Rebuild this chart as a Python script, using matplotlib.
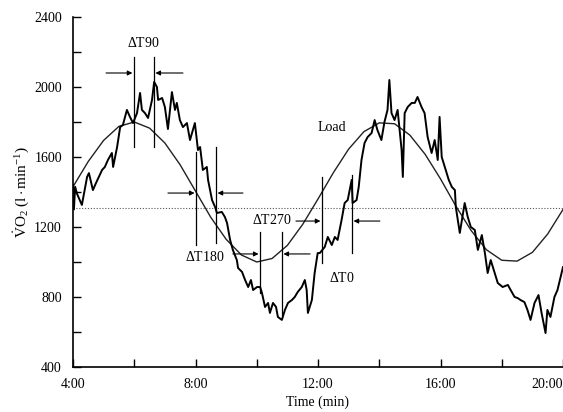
import numpy as np
import matplotlib
matplotlib.use("Agg")
import matplotlib.pyplot as plt

plt.rcParams['font.family'] = ['Liberation Serif', 'DejaVu Serif']
plt.rcParams['mathtext.fontset'] = 'custom'
plt.rcParams['mathtext.rm'] = 'Liberation Serif'
plt.rcParams['mathtext.it'] = 'Liberation Serif:italic'

# ---- data (time in min, VO2 in l/min * 1000) ----
load_t = [4.0, 4.5, 5.0, 5.5, 6.0, 6.5, 7.0, 7.5, 8.0, 8.5, 9.0, 9.5, 10.0,
          10.5, 11.0, 11.5, 12.0, 12.5, 13.0, 13.5, 14.0, 14.5, 15.0, 15.5,
          16.0, 16.5, 17.0, 17.5, 18.0, 18.5, 19.0, 19.5, 20.0]
load_v = [1430, 1575, 1695, 1775, 1800, 1765, 1680, 1555, 1405, 1255, 1130,
          1040, 1000, 1020, 1095, 1215, 1360, 1510, 1645, 1745, 1795, 1790,
          1725, 1615, 1475, 1320, 1180, 1070, 1010, 1005, 1055, 1160, 1300]

vo2_t = [4.00, 4.03, 4.07, 4.13, 4.29, 4.46, 4.52, 4.65, 4.75, 4.95, 5.04,
         5.14, 5.27, 5.31, 5.44, 5.54, 5.63, 5.76, 5.86, 5.96, 6.09, 6.19,
         6.25, 6.35, 6.45, 6.58, 6.65, 6.74, 6.78, 6.91, 7.00, 7.10, 7.23,
         7.33, 7.39, 7.49, 7.59, 7.72, 7.82, 7.98, 8.08, 8.15, 8.24, 8.37,
         8.41, 8.54, 8.64, 8.70, 8.86, 8.96, 9.03, 9.13, 9.22, 9.35, 9.39,
         9.52, 9.62, 9.72, 9.81, 9.88, 10.01, 10.11, 10.17, 10.27, 10.37,
         10.43, 10.53, 10.63, 10.69, 10.82, 10.92, 11.02, 11.15, 11.24,
         11.34, 11.47, 11.57, 11.63, 11.67, 11.80, 11.89, 11.99, 12.06,
         12.22, 12.32, 12.45, 12.55, 12.64, 12.77, 12.87, 12.97, 13.10,
         13.13, 13.26, 13.33, 13.42, 13.52, 13.62, 13.75, 13.85, 13.94,
         14.07, 14.17, 14.27, 14.33, 14.40, 14.50, 14.60, 14.73, 14.77,
         14.83, 14.93, 15.06, 15.16, 15.25, 15.38, 15.48, 15.58, 15.71,
         15.81, 15.91, 15.97, 16.04, 16.27, 16.37, 16.47, 16.50, 16.63,
         16.79, 16.89, 16.99, 17.12, 17.22, 17.35, 17.45, 17.54, 17.64,
         17.77, 17.87, 18.03, 18.20, 18.29, 18.42, 18.52, 18.61, 18.74,
         18.84, 18.94, 19.07, 19.20, 19.30, 19.43, 19.49, 19.59, 19.72,
         19.82, 19.92, 20.00]
vo2_v = [1440, 1300, 1430, 1390, 1326, 1486, 1508, 1411, 1451, 1526, 1543,
         1583, 1623, 1543, 1657, 1771, 1783, 1869, 1829, 1794, 1851, 1966,
         1869, 1851, 1823, 1926, 2029, 2000, 1926, 1937, 1886, 1760, 1971,
         1869, 1909, 1811, 1771, 1794, 1697, 1794, 1640, 1657, 1526, 1543,
         1469, 1354, 1314, 1280, 1286, 1257, 1223, 1126, 1069, 1011, 966,
         943, 897, 857, 897, 840, 857, 857, 823, 743, 766, 709, 766, 743,
         686, 669, 726, 766, 783, 800, 829, 857, 897, 840, 709, 783, 937,
         1051, 1051, 1086, 1143, 1097, 1143, 1126, 1240, 1337, 1354, 1469,
         1337, 1354, 1429, 1583, 1680, 1714, 1737, 1811, 1754, 1697, 1800,
         1869, 2040, 1851, 1811, 1869, 1640, 1486, 1851, 1886, 1909, 1909,
         1943, 1886, 1851, 1714, 1623, 1697, 1583, 1829, 1600, 1469, 1429,
         1411, 1314, 1166, 1337, 1257, 1200, 1183, 1069, 1154, 1051, 937,
         1011, 937, 880, 857, 869, 840, 800, 794, 783, 771, 726, 669, 766,
         811, 709, 594, 726, 686, 800, 840, 914, 971]

mean_vo2 = 1310

# phase-lag markers: label, (t_load, t_vo2), line spans, arrow level, label spot
lag_names = ['$\\Delta$T90', '$\\Delta$T180', '$\\Delta$T270', '$\\Delta$T0']
lag_times = [(5.99, 6.64), (8.02, 8.67), (10.11, 10.82), (12.13, 13.11)]
lag_spans = [((1660, 2170), (1660, 2170)), ((1100, 1630), (1110, 1657)),
             ((823, 1171), (697, 1171)), ((994, 1486), (1051, 1497))]
lag_arrow_v = [2080, 1394, 1046, 1234]
lag_arrow_from = [(5.08, 7.59), (7.10, 9.55), (9.22, 11.74), (11.28, 14.02)]
lag_label_pos = [(6.29, 2251), (8.31, 1029), (10.50, 1240), (12.78, 909)]

x_ticks = [4, 6, 8, 10, 12, 14, 16, 18, 20]
x_labels = ['4:00', '', '8:00', '', '12:00', '', '16:00', '', '20:00']
y_ticks = [400, 600, 800, 1000, 1200, 1400, 1600, 1800, 2000, 2200, 2400]
y_labels = ['400', '', '800', '', '1200', '', '1600', '', '2000', '', '2400']

fig = plt.figure(figsize=(5.63, 4.12), dpi=100)
ax = fig.add_axes([73 / 563, 1 - 367 / 412, 490 / 563, 350 / 412])

ax.axhline(mean_vo2, color='#555555', lw=0.8, ls=(0, (1, 1.6)))
ax.plot(load_t, load_v, color='#222222', lw=1.0)
ax.plot(vo2_t, vo2_v, color='black', lw=1.4)

for name, (t1, t2), (s1, s2), av, (a1, a2), (lx, ly) in zip(
        lag_names, lag_times, lag_spans, lag_arrow_v, lag_arrow_from,
        lag_label_pos):
    ax.plot([t1, t1], s1, color='black', lw=0.9)
    ax.plot([t2, t2], s2, color='black', lw=0.9)
    arr = dict(arrowstyle='-|>', lw=0.8, color='black', mutation_scale=7,
               shrinkA=0, shrinkB=0)
    ax.annotate('', xy=(t1 - 0.05, av), xytext=(a1, av), arrowprops=arr)
    ax.annotate('', xy=(t2 + 0.05, av), xytext=(a2, av), arrowprops=arr)
    ax.text(lx, ly, name, fontsize=10, ha='center', va='center')

ax.text(12.46, 1766, 'Load', fontsize=10, ha='center', va='center')

ax.set_xlim(4, 20)
ax.set_ylim(400, 2400)
ax.set_xticks(x_ticks)
ax.set_xticklabels(x_labels)
ax.set_yticks(y_ticks)
ax.set_yticklabels(y_labels)
ax.tick_params(direction='in', length=6, width=1, labelsize=10, pad=8)
# the last label sits at the cropped right edge, keep it inside the figure
ax.get_xticklabels()[-1].set_horizontalalignment('right')
ax.spines['top'].set_visible(False)
ax.spines['right'].set_visible(False)
ax.spines['left'].set_linewidth(1.2)
ax.spines['bottom'].set_linewidth(1.2)
ax.set_xlabel('Time (min)', fontsize=10, labelpad=3)
ax.set_ylabel(r'$\dot{\rm V}{\rm O}_2\ ({\rm l\cdot min^{-1}})$', fontsize=11,
              labelpad=2)

fig.savefig('out.png', dpi=100)
